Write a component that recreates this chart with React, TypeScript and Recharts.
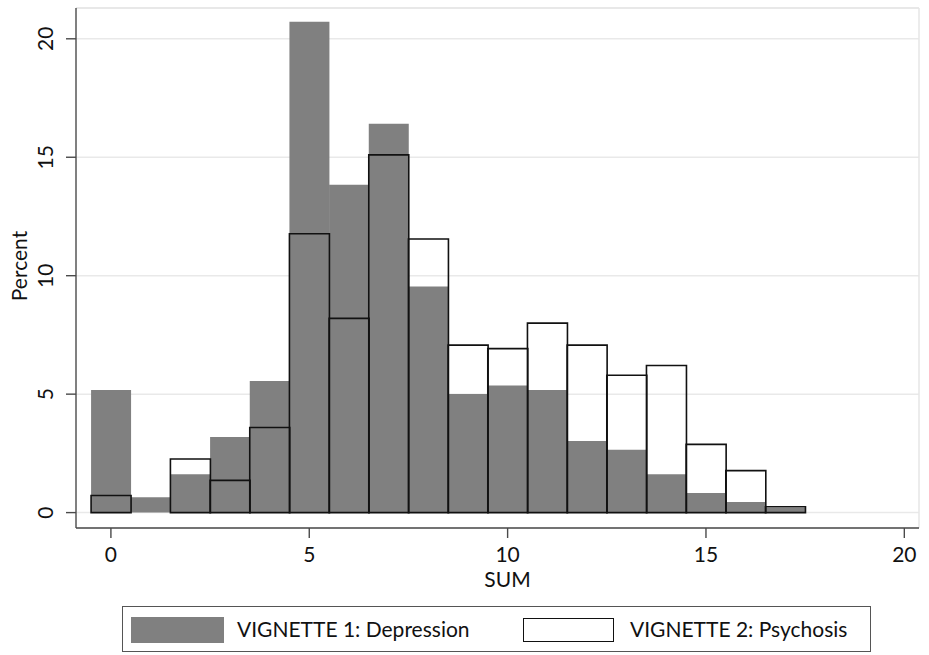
import {
  Bar,
  CartesianGrid,
  ComposedChart,
  Legend,
  ReferenceLine,
  XAxis,
  YAxis,
} from "recharts";

// SUM score (bin centres, width 1)
const sums = [0, 1, 2, 3, 4, 5, 6, 7, 8, 9, 10, 11, 12, 13, 14, 15, 16, 17];
// percent per bin
const depression = [
  5.18, 0.65, 1.62, 3.19, 5.55, 20.72, 13.84, 16.41, 9.54, 5.01, 5.36, 5.18,
  3.02, 2.65, 1.62, 0.83, 0.45, 0.2,
];
const psychosis = [
  0.72, 0, 2.26, 1.36, 3.59, 11.77, 8.2, 15.1, 11.55, 7.07, 6.92, 8.0, 7.07,
  5.8, 6.21, 2.88, 1.77, 0.25,
];
const xTicks = [0, 5, 10, 15, 20];
const yTicks = [0, 5, 10, 15, 20];
const seriesNames = ["VIGNETTE 1: Depression", "VIGNETTE 2: Psychosis"];

const data = sums.map((s, i) => ({
  sum: s,
  depression: depression[i],
  psychosis: psychosis[i],
}));

const FONT = "Lato, 'Open Sans', sans-serif";
const GRAY = "#808080";
const AXIS = "#4a4a4a";
const X_DOMAIN: [number, number] = [-0.88, 20.37];
const Y_DOMAIN: [number, number] = [-0.65, 21.3];

function XTick({ x, y, payload }: any) {
  return (
    <text x={x} y={y} dy={22} textAnchor="middle" fontSize={21} fontFamily={FONT} fill="#111">
      {payload.value}
    </text>
  );
}

function YTick({ x, y, payload }: any) {
  const bx = x - 10.5;
  return (
    <text
      x={bx}
      y={y}
      textAnchor="middle"
      fontSize={21}
      fontFamily={FONT}
      fill="#111"
      transform={`rotate(-90, ${bx}, ${y})`}
    >
      {payload.value}
    </text>
  );
}

function PercentLabel({ viewBox }: any) {
  const cx = 27;
  const cy = viewBox.y + viewBox.height / 2 - 2;
  return (
    <text
      x={cx}
      y={cy}
      textAnchor="middle"
      fontSize={21}
      fontFamily={FONT}
      fill="#111"
      transform={`rotate(-90, ${cx}, ${cy})`}
    >
      Percent
    </text>
  );
}

function SumLabel({ viewBox }: any) {
  return (
    <text
      x={viewBox.x + viewBox.width / 2 + 10}
      y={587}
      textAnchor="middle"
      fontSize={21}
      fontFamily={FONT}
      fill="#111"
    >
      SUM
    </text>
  );
}

function LegendBox() {
  return (
    <div
      style={{
        boxSizing: "border-box",
        position: "relative",
        width: 749,
        height: 46,
        border: "1.5px solid #555",
        fontFamily: FONT,
        fontSize: 21,
        color: "#111",
        background: "#fff",
      }}
    >
      <div
        style={{
          position: "absolute",
          left: 8,
          top: 9.5,
          width: 93,
          height: 26,
          background: GRAY,
        }}
      />
      <span style={{ position: "absolute", left: 114, top: 9, lineHeight: "26px", whiteSpace: "nowrap" }}>
        {seriesNames[0]}
      </span>
      <div
        style={{
          position: "absolute",
          boxSizing: "border-box",
          left: 400,
          top: 10.5,
          width: 91,
          height: 24.5,
          border: "1.6px solid #111",
          background: "#fff",
        }}
      />
      <span style={{ position: "absolute", left: 507, top: 9, lineHeight: "26px", whiteSpace: "nowrap" }}>
        {seriesNames[1]}
      </span>
    </div>
  );
}

export default function App() {
  return (
    <div style={{ position: "absolute", left: 0, top: 0, width: 929, height: 655, background: "#fff" }}>
      <ComposedChart
        width={929}
        height={655}
        data={data}
        margin={{ top: 8, right: 10, left: 0, bottom: 3 }}
        barCategoryGap={0}
        barGap={0}
      >
        <CartesianGrid
          horizontal
          vertical={false}
          stroke="#e9e9e9"
          strokeWidth={1.5}
        />
        <ReferenceLine y={Y_DOMAIN[1]} stroke="#e6e6e6" strokeWidth={1.5} />
        <ReferenceLine x={X_DOMAIN[1]} stroke="#e6e6e6" strokeWidth={1.5} />
        <XAxis
          dataKey="sum"
          type="number"
          domain={X_DOMAIN}
          allowDataOverflow
          ticks={xTicks}
          height={78}
          tickSize={10}
          tick={<XTick />}
          axisLine={{ stroke: AXIS, strokeWidth: 1.4 }}
          tickLine={{ stroke: AXIS, strokeWidth: 1.4 }}
          label={<SumLabel />}
        />
        <XAxis
          xAxisId="b"
          dataKey="sum"
          type="number"
          domain={X_DOMAIN}
          allowDataOverflow
          hide
        />
        <YAxis
          type="number"
          domain={Y_DOMAIN}
          allowDataOverflow
          ticks={yTicks}
          width={76}
          tickSize={10}
          tick={<YTick />}
          axisLine={{ stroke: AXIS, strokeWidth: 1.4 }}
          tickLine={{ stroke: AXIS, strokeWidth: 1.4 }}
          label={<PercentLabel />}
        />
        <Legend
          verticalAlign="bottom"
          content={<LegendBox />}
          wrapperStyle={{ left: 122, width: 749, height: 46, bottom: 3 }}
        />
        <Bar
          dataKey="depression"
          name={seriesNames[0]}
          fill={GRAY}
          isAnimationActive={false}
        />
        <Bar
          xAxisId="b"
          dataKey="psychosis"
          name={seriesNames[1]}
          fill="none"
          stroke="#111"
          strokeWidth={1.6}
          isAnimationActive={false}
        />
      </ComposedChart>
    </div>
  );
}
